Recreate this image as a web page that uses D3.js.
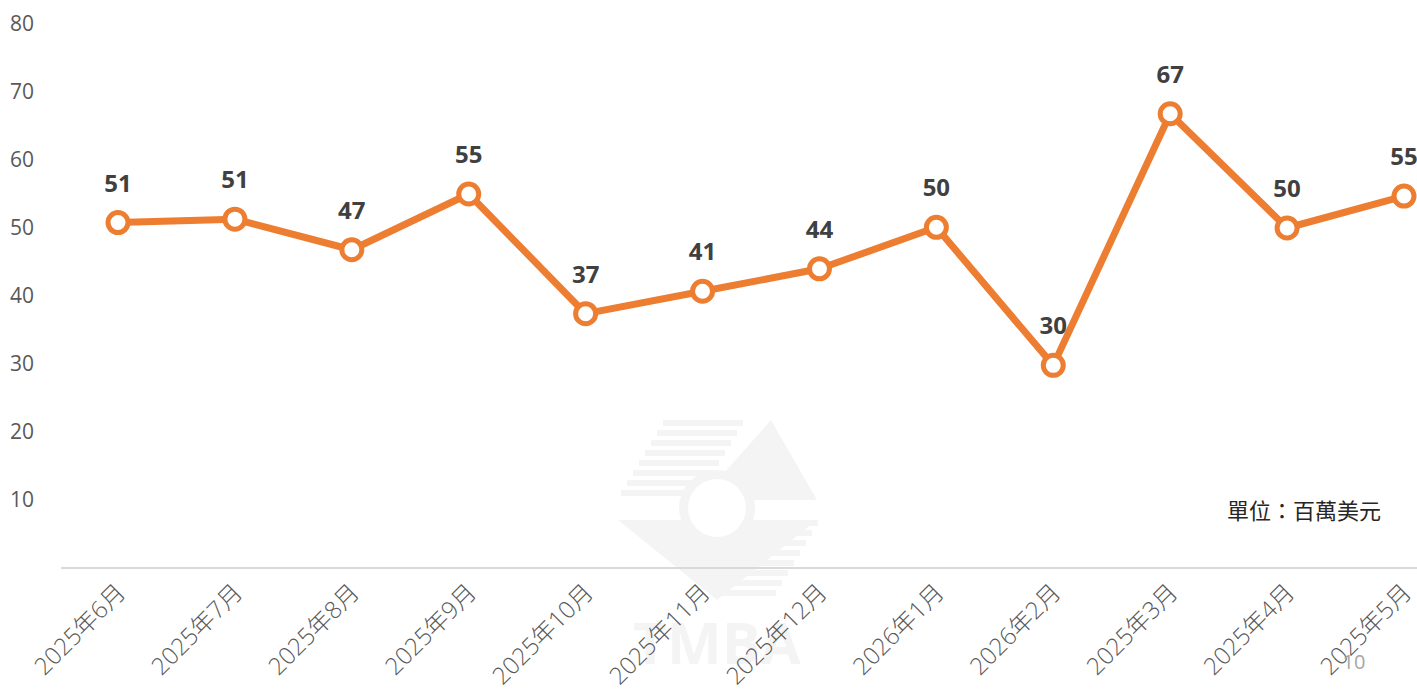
<!DOCTYPE html>
<html>
<head>
<meta charset="utf-8">
<script src="https://cdn.jsdelivr.net/npm/d3@7"></script>
<style>
  body { margin: 0; background: #fff; }
  svg { display: block; font-family: "Open Sans", "Noto Sans CJK TC", sans-serif; }
</style>
</head>
<body>
<div id="chart"></div>
<script>
// data
const months = ["2025年6月", "2025年7月", "2025年8月", "2025年9月", "2025年10月", "2025年11月",
                "2025年12月", "2026年1月", "2026年2月", "2025年3月", "2025年4月", "2025年5月"];
const values = [50.8, 51.3, 46.8, 55.0, 37.4, 40.7, 44.0, 50.1, 29.8, 66.8, 50.0, 54.7];
const yTicks = [10, 20, 30, 40, 50, 60, 70, 80];

const width = 1417, height = 693;
const svg = d3.select("#chart").append("svg")
    .attr("width", width)
    .attr("height", height);

// scales
const x = d3.scalePoint()
    .domain(months)
    .range([118, 1404]);

const y = d3.scaleLinear()
    .domain([0, 80])
    .range([568, 24]);

// watermark
const wm = svg.append("g").attr("fill", "#f4f4f4");
wm.append("path").attr("d", "M771,420 L817,500 L700,500 Z");
wm.append("path").attr("d", "M618,520 L817,520 L717,600 Z");
for (let i = 0; i < 8; i++) {
  wm.append("rect")
    .attr("x", 663 - i * 6).attr("y", 420 + i * 10)
    .attr("width", 80).attr("height", 6);
}
for (let i = 0; i < 8; i++) {
  wm.append("rect")
    .attr("x", 762 - i * 6).attr("y", 520 + i * 10)
    .attr("width", 56).attr("height", 6);
}
wm.append("circle").attr("cx", 717).attr("cy", 508).attr("r", 38);
wm.append("circle").attr("cx", 717).attr("cy", 508).attr("r", 29).attr("fill", "#fff");
wm.append("text")
  .attr("x", 717).attr("y", 664)
  .attr("text-anchor", "middle")
  .attr("font-size", 58).attr("font-weight", 700)
  .attr("fill", "#f4f4f4")
  .text("TMBA");

// baseline
svg.append("line")
  .attr("x1", 61).attr("x2", width)
  .attr("y1", y(0)).attr("y2", y(0))
  .attr("stroke", "#d9d9d9").attr("stroke-width", 2);

// y axis labels
svg.append("g").selectAll("text")
  .data(yTicks)
  .join("text")
    .attr("x", 10)
    .attr("y", d => y(d) + 7)
    .attr("font-size", 21)
    .attr("fill", "#595959")
    .text(d => d);

// x axis labels
svg.append("g").selectAll("text")
  .data(months)
  .join("text")
    .attr("transform", d => `translate(${x(d) + 9},${594}) rotate(-45)`)
    .attr("text-anchor", "end")
    .attr("font-size", 24)
    .attr("font-weight", 300)
    .attr("fill", "#595959")
    .text(d => d);

// line
const line = d3.line()
    .x((d, i) => x(months[i]))
    .y(d => y(d));

svg.append("path")
  .datum(values)
  .attr("fill", "none")
  .attr("stroke", "#ED7D31")
  .attr("stroke-width", 7)
  .attr("stroke-linejoin", "round")
  .attr("d", line);

svg.append("g").selectAll("circle")
  .data(values)
  .join("circle")
    .attr("cx", (d, i) => x(months[i]))
    .attr("cy", d => y(d))
    .attr("r", 10)
    .attr("fill", "#fff")
    .attr("stroke", "#ED7D31")
    .attr("stroke-width", 5);

// data labels
svg.append("g").selectAll("text")
  .data(values)
  .join("text")
    .attr("x", (d, i) => x(months[i]))
    .attr("y", d => y(d) - 31)
    .attr("text-anchor", "middle")
    .attr("font-size", 24)
    .attr("font-weight", 700)
    .attr("fill", "#404040")
    .text(d => Math.round(d));

// unit
svg.append("text")
  .attr("x", 1381).attr("y", 519)
  .attr("text-anchor", "end")
  .attr("font-size", 22)
  .attr("fill", "#262626")
  .text("單位：百萬美元");

// page number
svg.append("text")
  .attr("x", 1354).attr("y", 669)
  .attr("text-anchor", "middle")
  .attr("font-size", 20)
  .attr("fill", "#a6a6a6")
  .text("10");
</script>
</body>
</html>
